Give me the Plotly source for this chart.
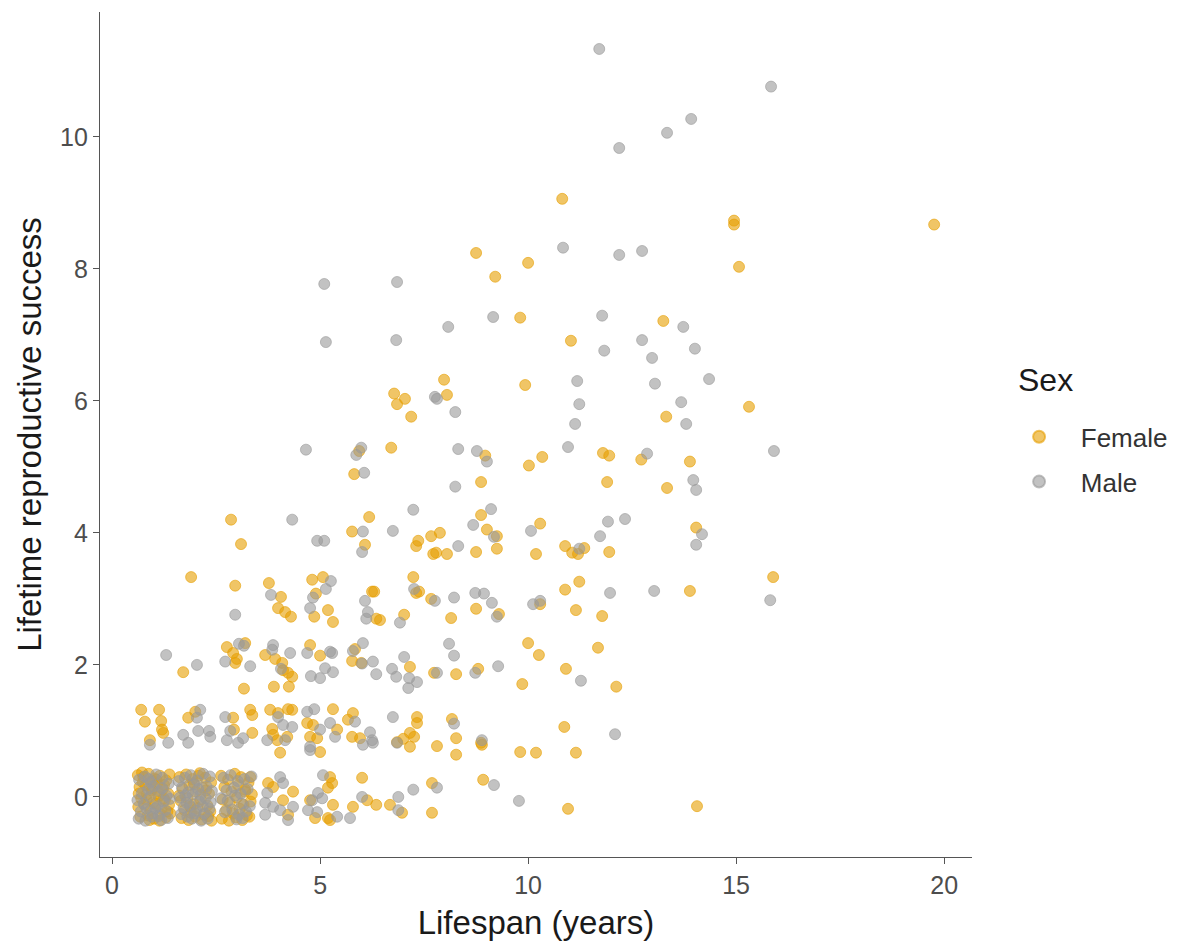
import plotly.graph_objects as go

# ---------------- Female ----------------
female_x = [
    10.82, 14.95, 14.95, 19.76, 15.07, 9.21, 10.0, 8.75, 9.81, 13.25, 11.03, 9.93, 7.98, 8.05,
    6.78, 7.04, 6.85, 7.19, 15.31, 13.32, 6.71, 5.94, 5.82, 8.97, 10.34, 10.02, 8.87, 11.80,
    11.95, 12.72, 13.89, 11.90, 13.34,
    8.87, 10.29, 14.04, 7.31, 7.36, 7.67, 7.88, 7.72, 7.79, 8.05, 8.75, 9.01, 9.25, 9.25,
    10.19, 10.89, 11.06, 11.20, 11.35, 11.95, 7.24, 7.31, 7.38, 7.67, 8.75, 8.15, 9.30, 7.02,
    6.44, 10.29, 10.89, 11.23, 11.15, 11.78, 13.89, 15.89,
    2.86, 3.10, 1.90, 2.96, 3.77, 4.06, 3.99, 4.16, 4.30, 4.81, 5.07, 4.90, 4.86, 5.19, 5.31,
    5.77, 6.18, 6.08, 6.25, 6.30, 6.35,
    1.71, 2.76, 2.91, 3.00, 2.96, 3.20, 3.68, 3.92, 4.09, 4.11, 4.23, 4.33, 4.76, 5.00, 5.77,
    5.84, 5.99, 3.17, 3.89, 4.25,
    10.0, 10.26, 11.68, 7.16, 7.74, 8.27, 8.80, 10.91, 9.86, 12.12, 7.33, 7.33, 8.17, 8.27,
    7.16, 7.26, 7.00, 7.81, 8.87, 10.87,
    0.70, 1.13, 0.79, 1.18, 1.20, 1.23, 0.91, 1.83, 2.00, 2.91, 2.93, 3.37, 3.32, 3.37, 3.80,
    3.99, 4.23, 4.33, 3.85, 3.87, 3.97, 4.21, 4.69, 4.83, 4.76, 4.93, 5.31, 5.41, 5.67, 5.79,
    5.77, 5.96, 6.85,
    4.04, 5.00, 7.16, 8.27, 8.89, 9.81, 10.19, 11.15,
    3.32, 3.20, 3.75, 3.87, 4.35, 4.11, 4.23, 5.24, 5.29, 5.19, 4.76, 5.31, 4.88, 5.19, 5.24,
    6.01, 6.13, 6.35, 5.79, 6.68, 6.97, 7.69, 7.69, 8.92, 10.96, 14.06,
    0.62, 0.75, 0.88, 1.02, 1.15, 1.30, 1.38, 0.66, 0.81, 0.95, 1.08, 1.22, 1.35, 0.70, 0.84,
    0.99, 1.12, 1.27, 0.63, 0.78, 0.92, 1.05, 1.19, 1.33, 0.68, 0.86, 1.01, 1.16, 1.29, 0.74,
    0.90, 1.10, 1.25, 1.37, 0.97, 0.64, 0.83, 1.06, 1.24, 1.40, 0.72, 0.94, 1.14,
    1.62, 1.78, 1.93, 2.08, 2.24, 2.38, 1.70, 1.86, 2.01, 2.17, 2.33, 1.65, 1.81, 1.97, 2.13,
    2.29, 1.74, 1.90, 2.05, 2.21, 2.36, 1.67, 1.84, 2.00, 2.15, 2.31, 1.96, 2.26, 1.61, 1.88,
    2.11, 2.39,
    2.62, 2.79, 2.95, 3.10, 3.28, 2.70, 2.87, 3.03, 3.20, 3.36, 2.66, 2.83, 3.00, 3.16, 3.33,
    2.74, 2.91, 3.07, 3.24, 2.64, 2.81, 2.98, 3.13, 3.30,
]
female_y = [
    9.06, 8.73, 8.67, 8.67, 8.03, 7.88, 8.09, 8.24, 7.26, 7.21, 6.91, 6.24, 6.32, 6.09,
    6.11, 6.03, 5.95, 5.76, 5.91, 5.76, 5.29, 5.24, 4.89, 5.17, 5.15, 5.02, 4.77, 5.21,
    5.17, 5.11, 5.08, 4.77, 4.68,
    4.27, 4.14, 4.08, 3.80, 3.88, 3.95, 4.00, 3.68, 3.70, 3.68, 3.71, 4.05, 3.95, 3.76,
    3.68, 3.80, 3.70, 3.68, 3.77, 3.71, 3.33, 3.09, 3.11, 3.00, 2.85, 2.71, 2.77, 2.76,
    2.68, 2.92, 3.14, 3.26, 2.83, 2.74, 3.12, 3.33,
    4.20, 3.83, 3.33, 3.20, 3.24, 3.03, 2.86, 2.80, 2.73, 3.29, 3.33, 3.08, 2.73, 2.83, 2.65,
    4.02, 4.24, 3.82, 3.11, 3.11, 2.70,
    1.89, 2.27, 2.18, 2.09, 2.03, 2.33, 2.15, 2.09, 2.03, 1.92, 1.88, 1.82, 2.30, 2.14, 2.06,
    2.24, 2.03, 1.64, 1.67, 1.67,
    2.33, 2.15, 2.26, 1.97, 1.88, 1.86, 1.94, 1.94, 1.71, 1.67, 1.21, 1.12, 1.18, 0.89,
    0.97, 0.91, 0.88, 0.77, 0.82, 1.06,
    1.32, 1.32, 1.14, 1.15, 1.02, 0.97, 0.86, 1.20, 1.29, 1.20, 1.02, 0.97, 1.32, 1.24, 1.32,
    1.27, 1.33, 1.32, 1.03, 0.94, 0.86, 0.91, 1.12, 1.09, 0.91, 0.89, 1.33, 1.02, 1.17, 1.27,
    0.91, 0.89, 0.83,
    0.67, 0.68, 0.76, 0.64, 0.79, 0.68, 0.67, 0.67,
    0.30, 0.08, 0.21, 0.15, 0.08, -0.05, -0.27, 0.30, 0.21, 0.14, -0.05, -0.12, -0.32, -0.32, -0.35,
    0.29, -0.05, -0.12, -0.15, -0.12, -0.24, 0.21, -0.24, 0.26, -0.18, -0.14,
    0.33, 0.30, 0.35, 0.28, 0.32, 0.25, 0.34, 0.15, 0.18, 0.10, 0.20, 0.12, 0.05, -0.02, 0.04,
    -0.08, 0.01, -0.05, -0.15, -0.12, -0.20, -0.10, -0.18, -0.22, -0.30, -0.28, -0.33, -0.26, -0.31, 0.22,
    -0.35, 0.08, 0.18, -0.12, 0.24, 0.05, -0.04, 0.26, -0.02, -0.25, 0.37, 0.13, -0.36,
    0.30, 0.34, 0.27, 0.32, 0.29, 0.22, 0.12, 0.18, 0.08, 0.14, 0.05, -0.06, -0.02, -0.11, -0.04,
    -0.13, -0.20, -0.24, -0.17, -0.27, -0.22, -0.32, -0.35, -0.30, -0.34, -0.29, 0.21, 0.10, 0.02,
    -0.15, 0.36, -0.36,
    0.32, 0.26, 0.35, 0.30, 0.22, 0.15, 0.08, 0.18, 0.11, 0.04, -0.04, -0.09, -0.01, -0.12, -0.07,
    -0.20, -0.25, -0.18, -0.28, -0.33, -0.36, -0.31, -0.35, -0.30,
]

# ---------------- Male ----------------
male_x = [
    11.71, 15.84, 13.92, 13.34, 12.19, 10.84, 12.19, 12.74, 5.10, 6.85, 8.08, 9.16, 11.78,
    5.14, 6.83, 11.83, 13.73, 12.74, 14.01, 12.98, 14.35, 13.05, 11.18, 11.23, 11.13, 13.68,
    13.80, 15.91, 10.96, 12.86, 13.97, 14.04, 7.76, 7.81, 8.25, 4.66, 5.99, 5.87, 6.06, 8.32,
    8.77, 9.01, 8.25, 7.24, 9.11,
    6.75, 8.68, 9.18, 8.32, 10.07, 11.92, 12.33, 11.73, 11.23, 14.18, 14.04, 7.26, 7.76, 8.22,
    8.73, 8.94, 9.13, 10.12, 10.29, 11.97, 13.03, 6.92, 9.25, 15.82,
    4.33, 4.93, 5.10, 6.03, 6.01, 2.96, 3.82, 5.26, 5.14, 4.83, 4.76, 6.08, 6.15, 6.11,
    1.30, 2.04, 2.72, 3.05, 3.17, 3.32, 3.87, 3.85, 4.28, 4.06, 4.69, 5.24, 5.29, 4.78, 5.12,
    5.31, 5.00, 5.79, 6.03, 6.01, 6.27, 6.35, 6.73, 6.83,
    8.10, 8.22, 7.02, 7.12, 7.33, 7.14, 7.81, 8.73, 9.28, 11.27, 6.75, 8.22, 8.89, 12.09, 6.85,
    2.12, 2.04, 2.07, 2.33, 2.36, 2.72, 2.84, 2.76, 3.15, 3.03, 1.71, 1.83, 1.35, 0.91, 3.99,
    4.11, 4.33, 4.16, 3.73, 4.69, 4.86, 5.00, 5.24, 5.36, 5.84, 6.20, 6.25, 4.76,
    4.76, 6.03, 6.27,
    4.04, 4.11, 3.73, 3.68, 3.87, 4.04, 4.35, 3.68, 4.23, 5.07, 4.95, 4.81, 5.05, 4.71, 4.93,
    5.41, 5.72, 6.01, 6.88, 7.24, 7.81, 6.88, 9.18, 9.78,
    0.65, 0.79, 0.93, 1.06, 1.21, 1.36, 0.72, 0.87, 1.00, 1.14, 1.31, 0.61, 0.76, 0.91, 1.09,
    1.24, 1.39, 0.69, 0.83, 0.97, 1.12, 1.28, 0.64, 0.80, 0.96, 1.18, 1.34, 0.88, 1.04, 1.20,
    1.60, 1.75, 1.89, 2.04, 2.19, 2.35, 1.68, 1.83, 1.98, 2.12, 2.27, 2.40, 1.63, 1.79, 1.94,
    2.10, 2.25, 1.72, 1.87, 2.02, 2.18, 2.34, 1.66, 1.81, 1.99, 2.14, 2.30, 1.76, 1.92, 2.07,
    2.22, 2.37,
    2.68, 2.85, 3.02, 3.18, 3.35, 2.75, 2.93, 3.09, 3.26, 2.61, 2.78, 2.96, 3.12, 3.31, 2.71,
    2.89, 3.05, 3.22, 2.99, 3.14,
]
male_y = [
    11.33, 10.76, 10.27, 10.06, 9.83, 8.32, 8.21, 8.27, 7.77, 7.80, 7.12, 7.27, 7.29,
    6.89, 6.92, 6.76, 7.12, 6.92, 6.79, 6.65, 6.33, 6.26, 6.30, 5.95, 5.65, 5.98,
    5.65, 5.24, 5.30, 5.20, 4.80, 4.65, 6.06, 6.03, 5.83, 5.26, 5.29, 5.18, 4.91, 5.27,
    5.24, 5.08, 4.70, 4.35, 4.36,
    4.03, 4.12, 3.94, 3.80, 4.03, 4.17, 4.21, 3.95, 3.76, 3.98, 3.82, 3.15, 2.97, 3.02,
    3.09, 3.08, 2.94, 2.92, 2.97, 3.09, 3.12, 2.64, 2.73, 2.98,
    4.20, 3.88, 3.88, 4.02, 3.71, 2.76, 3.06, 3.27, 3.15, 3.02, 2.86, 2.97, 2.80, 2.70,
    2.15, 2.00, 2.05, 2.32, 2.29, 1.98, 2.30, 2.23, 2.18, 1.94, 2.18, 2.20, 2.18, 1.83, 1.95,
    1.89, 1.80, 2.21, 2.33, 2.02, 2.05, 1.86, 1.94, 1.82,
    2.32, 2.14, 2.12, 1.65, 1.74, 1.80, 1.88, 1.88, 1.98, 1.76, 1.21, 1.11, 0.86, 0.95, 0.82,
    1.32, 1.20, 1.00, 1.00, 0.91, 1.21, 1.00, 0.86, 0.89, 0.82, 0.94, 0.82, 0.82, 0.79, 1.21,
    1.09, 1.06, 0.86, 0.86, 1.29, 1.33, 1.02, 1.12, 0.91, 1.14, 0.98, 0.86, 0.76,
    0.71, 0.79, 0.82,
    0.30, 0.21, 0.06, -0.09, -0.15, -0.20, -0.15, -0.27, -0.35, 0.33, 0.06, -0.05, -0.02, -0.20, -0.23,
    -0.30, -0.32, 0.00, 0.00, 0.11, 0.14, -0.20, 0.18, -0.06,
    0.26, 0.31, 0.22, 0.34, 0.29, 0.20, 0.06, 0.12, 0.16, 0.09, 0.02, -0.05, -0.10, 0.00, -0.14,
    -0.07, -0.03, -0.22, -0.18, -0.25, -0.29, -0.20, -0.33, -0.36, -0.30, -0.35, -0.32, 0.27, -0.17, 0.13,
    0.24, 0.29, 0.33, 0.25, 0.35, 0.31, 0.14, 0.07, 0.19, 0.03, 0.16, 0.09, -0.01, -0.09, 0.04,
    -0.07, -0.02, -0.16, -0.13, -0.21, -0.14, -0.18, -0.26, -0.30, -0.25, -0.36, -0.33, 0.02, -0.33, 0.12,
    -0.25, -0.08,
    0.29, 0.33, 0.24, 0.27, 0.31, 0.10, 0.14, 0.05, 0.12, -0.02, -0.06, 0.02, -0.10, -0.14, -0.23,
    -0.19, -0.27, -0.22, -0.34, -0.32,
]

x_ticks = [0, 5, 10, 15, 20]
y_ticks = [0, 2, 4, 6, 8, 10]

FONT = "Arial, Liberation Sans, sans-serif"
NB = "\u00a0\u00a0\u00a0"

fig = go.Figure()
fig.add_trace(go.Scatter(
    x=female_x, y=female_y, mode="markers", name=NB + "Female", legendgroup="f",
    marker=dict(size=11, color="rgba(230,159,0,0.6)",
                line=dict(width=1, color="rgba(230,159,0,0.6)")),
))
fig.add_trace(go.Scatter(
    x=male_x, y=male_y, mode="markers", name=NB + "Male", legendgroup="m",
    marker=dict(size=11, color="rgba(153,153,153,0.6)",
                line=dict(width=1, color="rgba(153,153,153,0.6)")),
))

axis_common = dict(
    showgrid=False, zeroline=False, showline=True, linecolor="#555555", linewidth=1.3,
    ticks="outside", ticklen=6, tickcolor="#555555", tickwidth=1.3,
    tickfont=dict(family=FONT, size=25, color="#4d4d4d"),
)

fig.update_layout(
    width=1177, height=948,
    paper_bgcolor="white", plot_bgcolor="white",
    margin=dict(l=100, r=205, t=12, b=91, autoexpand=False),
    font=dict(family=FONT, color="#1a1a1a"),
    xaxis=dict(range=[-0.29, 20.67], tickvals=x_ticks,
               title=dict(text="Lifespan (years)", font=dict(family=FONT, size=33, color="#1a1a1a"),
                          standoff=12),
               **axis_common),
    yaxis=dict(range=[-0.91, 11.89], tickvals=y_ticks,
               title=dict(text="Lifetime reproductive success",
                          font=dict(family=FONT, size=33, color="#1a1a1a"), standoff=8),
               **axis_common),
    legend=dict(
        font=dict(family=FONT, size=26, color="#333333"),
        x=1.054, xanchor="left", y=0.525, yanchor="top",
        itemsizing="constant", tracegroupgap=8,
    ),
    annotations=[dict(
        text="Sex", xref="paper", yref="paper", x=1.050, y=0.565,
        xanchor="left", yanchor="middle", showarrow=False,
        font=dict(family=FONT, size=32, color="#1a1a1a"),
    )],
    showlegend=True,
)

fig.write_html("out.html")
